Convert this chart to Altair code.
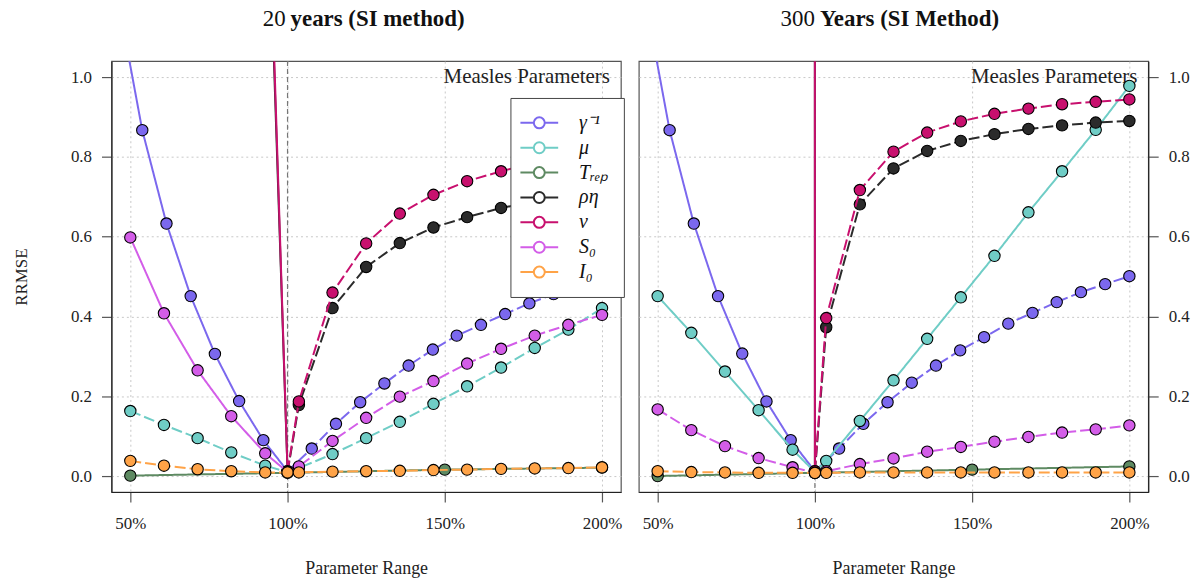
import altair as alt
import pandas as pd

SERIF = "Liberation Serif"

# ---------------- data ----------------
LABELS = ["γ⁻¹", "μ", "Tᵣₑₚ", "ρη", "ν", "S₀", "I₀"]
COLORS = ["#7B68EE", "#6FCDC6", "#5E8A62", "#2B2B2B", "#C8106E", "#D35DE8", "#FFA347"]

X_MAIN = [0.5, 0.607, 0.714, 0.821, 0.929, 1.0, 1.036, 1.143, 1.25, 1.357,
          1.464, 1.571, 1.679, 1.786, 1.893, 2.0]
X_GAMMA = [0.462, 0.538, 0.615, 0.692, 0.769, 0.846, 0.923, 1.0, 1.077, 1.154,
           1.231, 1.308, 1.385, 1.462, 1.538, 1.615, 1.692, 1.769, 1.846, 1.923, 2.0]
X_TREP = [0.5, 1.0, 1.5, 2.0]

# 20 years (SI method)
GAMMA_20 = [1.19, 0.867, 0.633, 0.451, 0.306, 0.188, 0.090, 0.012, 0.069, 0.131,
            0.185, 0.232, 0.277, 0.317, 0.352, 0.379, 0.406, 0.433, 0.456, 0.481, 0.501]
MU_20 = [0.163, 0.128, 0.095, 0.059, 0.026, 0.010, 0.020, 0.055, 0.095, 0.136,
         0.181, 0.225, 0.272, 0.321, 0.367, 0.421]
TREP_20 = [0.001, 0.008, 0.016, 0.021]
RHOETA_20 = [6.0, 5.0, 4.0, 3.0, 1.70, 0.010, 0.178, 0.421, 0.524, 0.584,
             0.623, 0.649, 0.672, 0.688, 0.702, 0.714]
NU_20 = [6.5, 5.5, 4.5, 3.5, 1.75, 0.012, 0.187, 0.460, 0.583, 0.658,
         0.705, 0.739, 0.764, 0.785, 0.802, 0.816]
S0_20 = [0.598, 0.408, 0.265, 0.150, 0.057, 0.010, 0.024, 0.088, 0.146, 0.199,
         0.238, 0.282, 0.319, 0.352, 0.379, 0.404]
I0_20 = [0.038, 0.026, 0.017, 0.012, 0.009, 0.009, 0.009, 0.011, 0.012, 0.013,
         0.015, 0.016, 0.018, 0.019, 0.020, 0.022]

# 300 Years (SI Method)
GAMMA_300 = [1.19, 0.867, 0.633, 0.451, 0.307, 0.187, 0.090, 0.012, 0.069, 0.131,
             0.185, 0.234, 0.277, 0.315, 0.348, 0.382, 0.409, 0.436, 0.461, 0.481, 0.501]
MU_300 = [0.451, 0.359, 0.262, 0.165, 0.066, 0.010, 0.038, 0.138, 0.240, 0.344,
          0.448, 0.552, 0.661, 0.764, 0.868, 0.978]
TREP_300 = [0.0, 0.008, 0.016, 0.024]
RHOETA_300 = [900, 800, 700, 600, 500, 0.010, 0.373, 0.681, 0.771, 0.815,
              0.840, 0.857, 0.870, 0.879, 0.886, 0.890]
NU_300 = [1000, 900, 800, 700, 600, 0.012, 0.396, 0.717, 0.813, 0.861,
          0.889, 0.908, 0.921, 0.932, 0.938, 0.944]
S0_300 = [0.167, 0.115, 0.075, 0.045, 0.022, 0.008, 0.012, 0.030, 0.044, 0.061,
          0.073, 0.086, 0.098, 0.109, 0.117, 0.127]
I0_300 = [0.012, 0.010, 0.009, 0.008, 0.008, 0.008, 0.008, 0.009, 0.009, 0.009,
          0.009, 0.009, 0.009, 0.009, 0.009, 0.009]

# line style of the part below / above 100 %
DASH_20 = [("solid", "dashed"), ("dashed", "dashed"), ("solid", "solid"),
           ("solid", "dashed"), ("solid", "dashed"), ("solid", "dashed"), ("dashed", "dashed")]
DASH_300 = [("solid", "dashed"), ("solid", "solid"), ("solid", "solid"),
            ("solid", "dashed"), ("solid", "dashed"), ("dashed", "dashed"), ("dashed", "dashed")]

X_TICKS = [0.5, 1.0, 1.5, 2.0]
Y_TICKS = [0.0, 0.2, 0.4, 0.6, 0.8, 1.0]

# legend glyph: line with an open circle (two opposite circles -> no fill)
LEGEND_GLYPH = ("M-3.45,0L-1,0M1,0L3.45,0"
                "M-1,0A1,1,0,1,0,1,0A1,1,0,1,0,-1,0Z"
                "M-1,0A1,1,0,1,1,1,0A1,1,0,1,1,-1,0Z")


def build(values, dashes):
    line_rows, pt_rows = [], []
    for lab, ys, (dl, dr) in zip(LABELS, values, dashes):
        xs = X_GAMMA if lab == LABELS[0] else (X_TREP if lab == LABELS[2] else X_MAIN)
        for x, y in zip(xs, ys):
            pt_rows.append(dict(series=lab, x=x, y=y))
            if x <= 1.0:
                line_rows.append(dict(series=lab, x=x, y=y, side="L", dash=dl))
            if x >= 1.0:
                line_rows.append(dict(series=lab, x=x, y=y, side="R", dash=dr))
    return pd.DataFrame(line_rows), pd.DataFrame(pt_rows)


W, H = 512, 433


def panel(values, dashes, num, bold, num_right, bold_left, show_legend, y_orient):
    lines, pts = build(values, dashes)
    xscale = alt.Scale(domain=[0.44, 2.06], nice=False, zero=False)
    yscale = alt.Scale(domain=[-0.04, 1.04], nice=False, zero=False)
    x_enc = alt.X("x:Q", scale=xscale,
                  axis=alt.Axis(values=X_TICKS, format=".0%", title="Parameter Range",
                                titleFontSize=18, titlePadding=28, labelPadding=14,
                                tickSize=10, grid=True))
    if y_orient == "left":
        y_axis = alt.Axis(values=Y_TICKS, format=".1f", orient="left", title="RRMSE",
                          titleFontSize=17, titlePadding=40, labelPadding=10,
                          tickSize=10, grid=True)
    else:
        y_axis = alt.Axis(values=Y_TICKS, format=".1f", orient="right", title=None,
                          labelPadding=10, tickSize=10, grid=True)
    y_enc = alt.Y("y:Q", scale=yscale, axis=y_axis)

    cscale = alt.Scale(domain=LABELS, range=COLORS)
    dscale = alt.Scale(domain=["solid", "dashed"], range=[[1, 0], [11, 4]])
    if show_legend:
        legend = alt.Legend(
            title=None, orient="none", legendX=401, legendY=37,
            symbolType=LEGEND_GLYPH,
            symbolSize=121, symbolStrokeWidth=2, symbolFillColor="white",
            labelFont=SERIF, labelFontStyle="italic", labelFontSize=20, labelColor="#111",
            padding=15, rowPadding=5, symbolOffset=4, labelOffset=30,
            strokeColor="#444", fillColor="white", cornerRadius=0)
    else:
        legend = None

    layers = []
    layers.append(
        alt.Chart(pd.DataFrame({"x": [1.0]}))
        .mark_rule(color="#777777", strokeDash=[5, 3], strokeWidth=1.2)
        .encode(x=x_enc)
    )
    layers.append(
        alt.Chart(pd.DataFrame({"t": ["Measles Parameters"]}))
        .mark_text(align="right", baseline="alphabetic", font=SERIF, fontSize=21, color="#222")
        .encode(text="t:N", x=alt.value(W - 11), y=alt.value(22))
    )
    layers.append(
        alt.Chart(pd.DataFrame({"t": [num]}))
        .mark_text(align="right", baseline="alphabetic", font=SERIF, fontSize=23, color="#111")
        .encode(text="t:N", x=alt.value(num_right), y=alt.value(-35))
    )
    layers.append(
        alt.Chart(pd.DataFrame({"t": [bold]}))
        .mark_text(align="left", baseline="alphabetic", font=SERIF, fontSize=23,
                   fontWeight="bold", color="#111")
        .encode(text="t:N", x=alt.value(bold_left), y=alt.value(-35))
    )
    for lab in LABELS:
        layers.append(
            alt.Chart(lines[lines.series == lab])
            .mark_line(strokeWidth=2, clip=True)
            .encode(x=x_enc, y=y_enc,
                    color=alt.Color("series:N", scale=cscale, legend=legend),
                    strokeDash=alt.StrokeDash("dash:N", scale=dscale, legend=None),
                    detail="side:N")
        )
        layers.append(
            alt.Chart(pts[pts.series == lab])
            .mark_point(shape="circle", filled=True, size=130, stroke="black",
                        strokeWidth=1.1, opacity=1, clip=True)
            .encode(x=x_enc, y=y_enc,
                    fill=alt.Fill("series:N", scale=cscale, legend=None))
        )
    return alt.layer(*layers).properties(width=W, height=H)


left = panel([GAMMA_20, MU_20, TREP_20, RHOETA_20, NU_20, S0_20, I0_20], DASH_20,
             "20", "years (SI method)", 175, 180, True, "left")
right = panel([GAMMA_300, MU_300, TREP_300, RHOETA_300, NU_300, S0_300, I0_300], DASH_300,
              "300", "Years (SI Method)", 177, 182, False, "right")

chart = (
    alt.hconcat(left, right, spacing=12)
    .resolve_scale(color="independent", fill="independent", strokeDash="independent")
    .properties(padding={"left": 12, "top": 6, "right": 5, "bottom": 0}, background="white")
    .configure_view(stroke="#555555", strokeWidth=1.2)
    .configure_axis(labelFont=SERIF, labelFontSize=17, labelColor="#222",
                    titleFont=SERIF, titleFontWeight="normal", titleColor="#222",
                    tickColor="#555", tickWidth=1.2, domainColor="#222", domainWidth=1.2,
                    gridColor="#c8c8c8", gridDash=[2, 3], gridWidth=1)
)

chart.save("out.html", embed_options={"renderer": "svg", "actions": False})
